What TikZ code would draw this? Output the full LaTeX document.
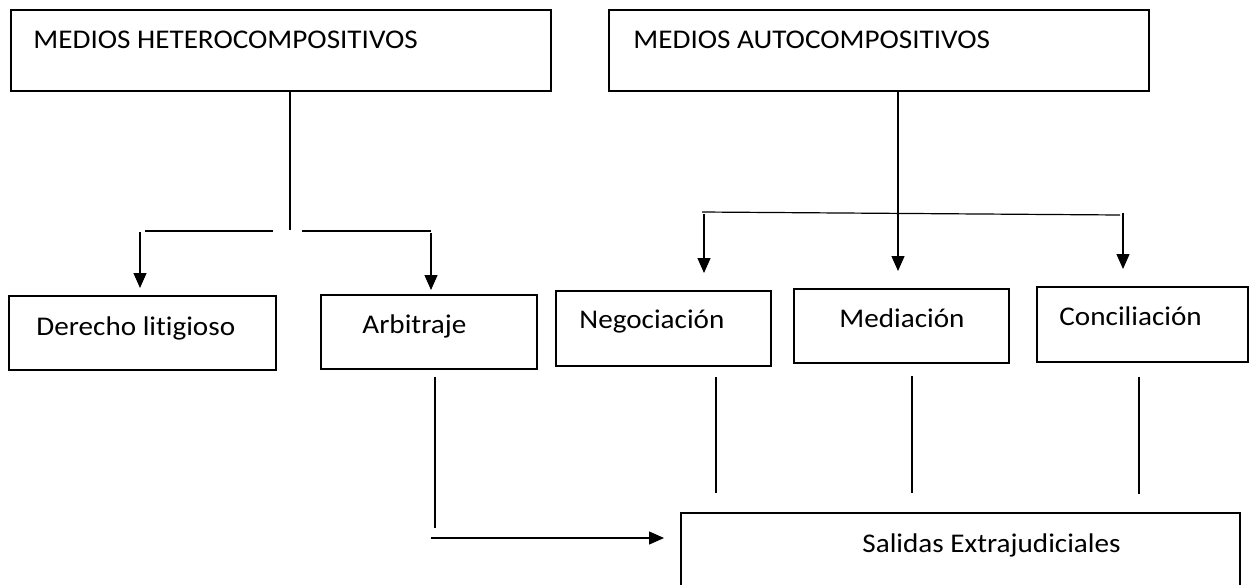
\documentclass[tikz,border=0pt]{standalone}
\usepackage{fontspec}
\setmainfont[Ligatures=NoCommon]{Carlito}
\usetikzlibrary{arrows.meta}
\tikzset{
  caja/.style={
    draw, rectangle, inner sep=0mm, outer sep=0mm, line width=1.2pt
  },
  texto/.style={
    anchor=base west, inner sep=0mm, font=\fontsize{13.5}{16}\selectfont,
    xscale=1.08, transform shape
  },
  linea/.style={line width=0.6pt},
  flecha/.style={line width=0.6pt, -{Triangle[width=6.5pt, length=7.5pt]}}
}

\begin{document}
\begin{tikzpicture}[x=0.5pt, y=-0.5pt]
 \useasboundingbox (0,0) rectangle (1251,584);

 % cajas
 \node[caja, minimum width=270pt, minimum height=40.5pt] (hetero) at (281, 50.5) {};
 \node[caja, minimum width=270pt, minimum height=40.5pt] (auto) at (879, 50.5) {};
 \node[caja, minimum width=133.5pt, minimum height=37pt] (derecho) at (142.5, 333) {};
 \node[caja, minimum width=108pt, minimum height=37pt] (arbitraje) at (429, 332) {};
 \node[caja, minimum width=107.5pt, minimum height=37.5pt] (negociacion) at (663.5, 328.5) {};
 \node[caja, minimum width=107.5pt, minimum height=37pt] (mediacion) at (901.5, 326) {};
 \node[caja, minimum width=105.5pt, minimum height=37.5pt] (conciliacion) at (1142.5, 324.5) {};
 \node[caja, minimum width=279.5pt, minimum height=46pt] (salidas) at (960.5, 559) {};

 % textos
 \node[texto] (thetero) at (33, 48) {MEDIOS HETEROCOMPOSITIVOS};
 \node[texto] (tauto) at (633, 48) {MEDIOS AUTOCOMPOSITIVOS};
 \node[texto] (tderecho) at (36, 335) {Derecho litigioso};
 \node[texto] (tarbitraje) at (362, 333) {Arbitraje};
 \node[texto] (tnegociacion) at (579, 328) {Negociación};
 \node[texto] (tmediacion) at (839, 327) {Mediación};
 \node[texto] (tconciliacion) at (1059, 325) {Conciliación};
 \node[texto] (tsalidas) at (862, 552) {Salidas Extrajudiciales};

 % puntos de apoyo
 \coordinate (hj) at (290, 230);
 \coordinate (hl1) at (145, 231);
 \coordinate (hl2) at (273, 231);
 \coordinate (hr1) at (302, 231);
 \coordinate (hr2) at (431, 231);
 \coordinate (dl) at (140, 232);
 \coordinate (ar) at (431, 233);
 \coordinate (al1) at (702, 212);
 \coordinate (al2) at (1120, 215);
 \coordinate (an) at (704, 214);
 \coordinate (am) at (898, 207);
 \coordinate (ac) at (1123, 213);
 \coordinate (bar) at (435, 528);
 \coordinate (bne) at (716, 493);
 \coordinate (bme) at (912, 493);
 \coordinate (bco) at (1139, 494);
 \coordinate (sal) at (431, 538);

 % lado heterocompositivo
 \draw[linea] (hetero.south -| hj) -- (hj);
 \draw[linea] (hl1) -- (hl2);
 \draw[linea] (hr1) -- (hr2);
 \draw[flecha, shorten >=4pt] (dl) -- (dl |- derecho.north);
 \draw[flecha, shorten >=2.5pt] (ar) -- (ar |- arbitraje.north);

 % lado autocompositivo
 \draw[linea] (auto.south -| am) -- (am);
 \draw[linea] (al1) -- (al2);
 \draw[flecha, shorten >=9pt] (an) -- (an |- negociacion.north);
 \draw[flecha, shorten >=9pt] (am) -- (am |- mediacion.north);
 \draw[flecha, shorten >=9pt] (ac) -- (ac |- conciliacion.north);

 % hacia salidas
 \draw[linea, shorten <=4pt] (arbitraje.south -| bar) -- (bar);
 \draw[linea, shorten <=5.5pt] (negociacion.south -| bne) -- (bne);
 \draw[linea, shorten <=6.5pt] (mediacion.south -| bme) -- (bme);
 \draw[linea, shorten <=7.5pt] (conciliacion.south -| bco) -- (bco);
 \draw[flecha, shorten >=8.5pt] (sal) -- (sal -| salidas.west);
\end{tikzpicture}
\end{document}
